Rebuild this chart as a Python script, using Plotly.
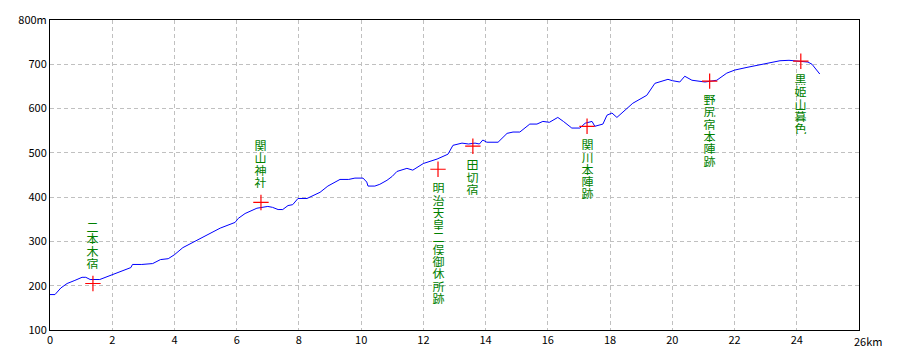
import plotly.graph_objects as go

# Elevation profile (distance km, elevation m)
dist_km = [0.0, 0.16, 0.35, 0.55, 0.8, 1.03, 1.15, 1.29, 1.6, 1.95, 2.25, 2.6, 2.65, 2.95,
           3.3, 3.55, 3.8, 4.0, 4.27, 4.92, 5.47, 5.95, 6.05, 6.27, 6.65, 7.0, 7.15, 7.33,
           7.48, 7.65, 7.8, 7.97, 8.26, 8.68, 8.93, 9.32, 9.6, 9.8, 10.06, 10.18, 10.22,
           10.44, 10.6, 10.83, 11.0, 11.15, 11.47, 11.66, 11.89, 12.0, 12.44, 12.79, 12.95,
           13.24, 13.45, 13.66, 13.8, 13.91, 14.04, 14.4, 14.69, 14.88, 15.1, 15.42, 15.65,
           15.84, 16.05, 16.32, 16.5, 16.77, 17.03, 17.2, 17.42, 17.51, 17.77, 17.9, 18.06,
           18.22, 18.73, 19.18, 19.44, 19.86, 20.0, 20.24, 20.4, 20.63, 21.05, 21.3, 21.43,
           21.75, 22.01, 22.4, 22.75, 23.07, 23.46, 23.75, 23.94, 24.16, 24.36, 24.49, 24.6,
           24.74]
elev_m = [180, 180, 195, 205, 212, 219, 219, 214, 214, 223, 232, 241, 248, 248,
          250, 259, 261, 270, 286, 309, 330, 343, 352, 363, 375, 379, 377, 372,
          372, 381, 383, 397, 397, 411, 425, 440, 440, 443, 443, 434, 425,
          425, 429, 438, 447, 458, 465, 461, 472, 476, 486, 497, 517,
          522, 520, 522, 520, 529, 524, 524, 544, 547, 547, 565, 565,
          571, 569, 580, 571, 556, 556, 567, 571, 560, 565, 585, 590,
          580, 612, 630, 657, 666, 663, 660, 673, 664, 660, 662, 664,
          680, 687, 693, 698, 703, 708, 709, 708, 707, 705, 700, 691,
          678]

# Points of interest
poi_names = ["二本木宿", "関山神社", "明治天皇二俣御休所跡", "田切宿", "関川本陣跡", "野尻宿本陣跡", "黒姫山暮色"]
poi_km = [1.38, 6.78, 12.47, 13.59, 17.26, 21.2, 24.13]
poi_elev = [205, 388, 463, 515, 560, 662, 707]
poi_side = ["above", "above", "below", "below", "below", "below", "below"]

# Axis ticks
x_tickvals = [0, 2, 4, 6, 8, 10, 12, 14, 16, 18, 20, 22, 24, 26]
x_ticktext = ["0", "2", "4", "6", "8", "10", "12", "14", "16", "18", "20", "22", "24", ""]
x_last_label = "26km"
y_tickvals = [100, 200, 300, 400, 500, 600, 700, 800]
y_ticktext = ["100", "200", "300", "400", "500", "600", "700", "800m"]

FONT = "Noto Sans CJK JP"

fig = go.Figure()
fig.add_trace(go.Scatter(x=dist_km, y=elev_m, mode="lines",
                         line=dict(color="#0000ff", width=1), hoverinfo="skip"))
fig.add_trace(go.Scatter(x=poi_km, y=poi_elev, mode="markers",
                         marker=dict(symbol="cross-thin", size=11,
                                     line=dict(color="#ff0000", width=1.2)),
                         hoverinfo="skip"))

pitch = 12.3
gap = 18.5
annotations = []
for name, xk, ye, side in zip(poi_names, poi_km, poi_elev, poi_side):
    n = len(name)
    for i, ch in enumerate(name):
        if side == "below":
            shift = -(gap + i * pitch)
        else:
            shift = gap + 1.5 + (n - 1 - i) * pitch
        annotations.append(dict(x=xk, y=ye, xref="x", yref="y", text=ch,
                                showarrow=False, xanchor="center", yanchor="middle",
                                yshift=shift, height=11, width=13, borderpad=0,
                                font=dict(family=FONT, size=12, color="#008000")))

annotations.append(dict(x=x_tickvals[-1], y=0, xref="x", yref="paper", text=x_last_label,
                        showarrow=False, xanchor="left", yanchor="top", xshift=-7, yshift=-1,
                        font=dict(family=FONT, size=11, color="black")))

fig.update_layout(
    width=900, height=360,
    margin=dict(l=50, r=41, t=20, b=30),
    paper_bgcolor="white", plot_bgcolor="white",
    showlegend=False,
    annotations=annotations,
    xaxis=dict(range=[0, 26], tickvals=x_tickvals, ticktext=x_ticktext,
               showgrid=True, gridcolor="#c0c0c0", griddash="4px,3px", gridwidth=1,
               showline=True, mirror=True, linecolor="black", linewidth=1,
               zeroline=False, ticks="",
               tickfont=dict(family=FONT, size=11, color="black")),
    yaxis=dict(range=[100, 800], tickvals=y_tickvals, ticktext=y_ticktext,
               showgrid=True, gridcolor="#c0c0c0", griddash="4px,3px", gridwidth=1,
               showline=True, mirror=True, linecolor="black", linewidth=1,
               zeroline=False, ticks="",
               tickfont=dict(family=FONT, size=11, color="black")),
)

fig.write_html("out.html")
